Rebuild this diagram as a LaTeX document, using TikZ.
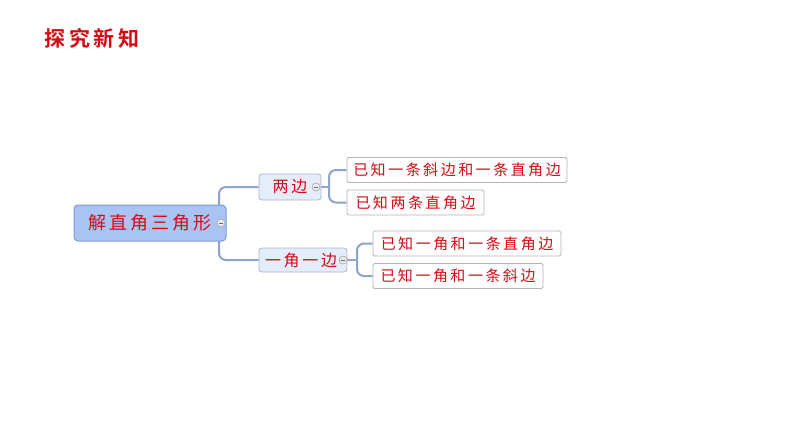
\documentclass[tikz,border=0pt]{standalone}
\usepackage{fontspec}
\newfontfamily\cjk{Noto Sans CJK SC}
\newfontfamily\cjkb{Noto Sans CJK SC Bold}
\usetikzlibrary{backgrounds}
\definecolor{tred}{HTML}{D40A14}
\definecolor{mainfill}{HTML}{A9C3F3}
\definecolor{mainedge}{HTML}{7D9AD6}
\definecolor{subfill}{HTML}{E6EDFA}
\definecolor{subedge}{HTML}{A7B6D6}
\definecolor{leafedge}{HTML}{B4B4B8}
\definecolor{connc}{HTML}{8FA3CF}
\tikzset{
  mainbox/.style={draw=mainedge, fill=mainfill, rounded corners=4pt, line width=1pt,
    minimum width=152pt, minimum height=36pt, inner sep=0pt, text=tred,
    font=\cjk\fontsize{18}{20}\selectfont},
  subbox/.style={draw=subedge, fill=subfill, rounded corners=3pt, line width=0.8pt,
    minimum height=26pt, inner sep=0pt, text=tred, font=\cjk\fontsize{16}{18}\selectfont},
  leafbox/.style={draw=leafedge, fill=white, rounded corners=1.5pt, line width=0.8pt,
    minimum height=25pt, inner sep=0pt, text=tred, font=\cjk\fontsize{15}{17}\selectfont},
  conn/.style={draw=connc, line width=2pt, rounded corners=7pt},
  minusbtn/.style={circle, draw=gray!70, fill=gray!15, line width=0.6pt, minimum size=8pt, inner sep=0pt,
    path picture={\draw[gray!80!black, line width=0.8pt] ([xshift=-2.2pt]path picture bounding box.center) -- ([xshift=2.2pt]path picture bounding box.center);}}
}
\begin{document}
\begin{tikzpicture}[x=1pt,y=-1pt]
\useasboundingbox (0,0) rectangle (794,447);
\node[text=tred, font=\cjkb\fontsize{21}{23}\selectfont, anchor=west] (title) at (41,38) {探\,究\,新\,知};

\node[mainbox] (main) at (150,223) {解\,直\,角\,三\,角\,形};
\node[minusbtn] (mainb) at (221,223) {};

\node[subbox, minimum width=62pt] (two) at (290,187) {两\,边};
\node[minusbtn] (twob) at (316,187) {};
\node[subbox, minimum width=88pt, minimum height=24pt] (one) at (303,260) {\hspace*{-4pt}一\,角\,一\,边};
\node[minusbtn] (oneb) at (343,260) {};

\node[leafbox, minimum width=220pt] (l1) at (457,170) {已\,知\,一\,条\,斜\,边\,和\,一\,条\,直\,角\,边};
\node[leafbox, minimum width=137pt] (l2) at (415.5,202.5) {已\,知\,两\,条\,直\,角\,边};
\node[leafbox, minimum width=188pt] (l3) at (467,243.5) {已\,知\,一\,角\,和\,一\,条\,直\,角\,边};
\node[leafbox, minimum width=170pt] (l4) at (458,276) {已\,知\,一\,角\,和\,一\,条\,斜\,边};

\coordinate (j0) at (219,223);
\coordinate (j1) at (329,187);
\coordinate (j2) at (357,260);

\begin{scope}[on background layer]
\fill[white] (0,0) rectangle (794,447);
\draw[conn] (two.west) -| (j0) |- (one.west);
\draw[conn] (l1.west) -| (j1) |- (l2.west);
\draw[conn, rounded corners=0pt] (twob.east) -- (j1);
\draw[conn] (l3.west) -| (j2) |- (l4.west);
\draw[conn, rounded corners=0pt] (oneb.east) -- (j2);
\end{scope}
\end{tikzpicture}
\end{document}
